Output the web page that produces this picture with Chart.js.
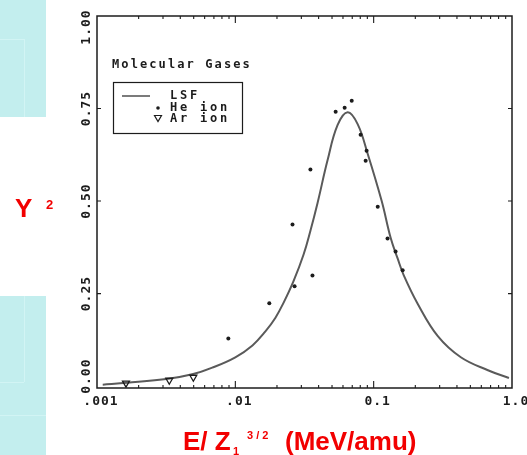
<!DOCTYPE html>
<html>
<head>
<meta charset="utf-8">
<script src="https://cdn.jsdelivr.net/npm/chart.js@4.4.1/dist/chart.umd.min.js"></script>
<style>
  html, body { margin: 0; padding: 0; background: #fff; }
  body { width: 527px; height: 455px; position: relative; overflow: hidden; font-family: "Liberation Sans", Arial, sans-serif; }
  .panel { position: absolute; left: 0; width: 46px; background: #c3eeee; }
  .seam { position: absolute; background: #d2f4f4; }
  #chart { position: absolute; left: 0; top: 0; }
  .red { position: absolute; color: #f20000; font-weight: bold; line-height: 1; white-space: pre; }
</style>
</head>
<body>
<div class="panel" style="top:0;height:117px"></div>
<div class="seam" style="left:24px;top:39px;width:1px;height:78px"></div>
<div class="seam" style="left:0;top:39px;width:24px;height:1px"></div>
<div class="panel" style="top:296px;height:159px"></div>
<div class="seam" style="left:24px;top:296px;width:1px;height:86px"></div>
<div class="seam" style="left:0;top:382px;width:24px;height:1px"></div>
<div class="seam" style="left:0;top:415px;width:46px;height:1px"></div>

<canvas id="chart" width="527" height="455"></canvas>

<span class="red" style="left:15px;top:195px;font-size:26px">Y</span>
<span class="red" style="left:46px;top:198px;font-size:13px">2</span>
<span class="red" style="left:183px;top:428px;font-size:26px">E/ Z</span>
<span class="red" style="left:233px;top:446px;font-size:11px">1</span>
<span class="red" style="left:247px;top:430px;font-size:11px">3 / 2</span>
<span class="red" style="left:285px;top:428px;font-size:26px">(MeV/amu)</span>

<script>
// LSF fit curve (energy per amu scaled by Z1^3/2, Y^2)
const lsfE = [0.00110, 0.00165, 0.00327, 0.00488, 0.00681, 0.0100, 0.0133, 0.0165, 0.0195, 0.0223,
              0.0263, 0.0311, 0.0349, 0.0393, 0.0464, 0.0548, 0.0649, 0.0766, 0.0905, 0.1143,
              0.1328, 0.149, 0.1648, 0.2084, 0.2909, 0.4266, 0.6699, 0.9505];
const lsfY = [0.004, 0.009, 0.020, 0.032, 0.050, 0.078, 0.110, 0.148, 0.185, 0.225,
              0.283, 0.355, 0.420, 0.495, 0.610, 0.705, 0.740, 0.708, 0.628, 0.500,
              0.400, 0.345, 0.300, 0.222, 0.135, 0.078, 0.043, 0.022];

// He ion measurements
const heE = [0.0089, 0.0176, 0.0259, 0.0268, 0.0361, 0.0349, 0.0531, 0.0617, 0.0694, 0.0805,
             0.0889, 0.0875, 0.107, 0.126, 0.144, 0.162];
const heY = [0.129, 0.224, 0.437, 0.270, 0.299, 0.585, 0.741, 0.752, 0.771, 0.679,
             0.636, 0.609, 0.485, 0.399, 0.364, 0.313];

// Ar ion measurements
const arE = [0.00162, 0.00333, 0.00497];
const arY = [0.008, 0.016, 0.024];

const xTickVals = [0.001, 0.01, 0.1, 1];
const xTickText = ['.001', '.01', '0.1', '1.0'];
const yTickVals = [0, 0.25, 0.5, 0.75, 1];
const yTickText = ['0.00', '0.25', '0.50', '0.75', '1.00'];

const ink = '#1c1c1c';
const curveGrey = '#5a5a5a';
const mono = '"DejaVu Sans Mono", "Liberation Mono", monospace';

const toPts = (xs, ys) => xs.map((x, i) => ({ x: x, y: ys[i] }));

// frame, inward ticks, typewriter labels and the boxed legend
const framePlugin = {
  id: 'frame',
  afterDraw(chart) {
    const { ctx, chartArea: a } = chart;
    const xs = chart.scales.x, ys = chart.scales.y;
    ctx.save();
    ctx.strokeStyle = ink;
    ctx.fillStyle = ink;
    ctx.lineWidth = 1.5;
    ctx.strokeRect(a.left, a.top, a.right - a.left, a.bottom - a.top);

    ctx.lineWidth = 1.1;
    ctx.beginPath();
    for (let e = -3; e <= -1; e++) {
      for (let m = 1; m <= 9; m++) {
        const v = m * Math.pow(10, e);
        if (v <= 0.001) continue;
        const px = xs.getPixelForValue(v);
        const len = m === 1 ? 7 : 3;
        ctx.moveTo(px, a.bottom); ctx.lineTo(px, a.bottom - len);
        ctx.moveTo(px, a.top); ctx.lineTo(px, a.top + len);
      }
    }
    [0.25, 0.5, 0.75].forEach(v => {
      const py = ys.getPixelForValue(v);
      ctx.moveTo(a.left, py); ctx.lineTo(a.left + 4, py);
      ctx.moveTo(a.right, py); ctx.lineTo(a.right - 4, py);
    });
    ctx.stroke();

    // tick labels
    ctx.font = 'bold 13px ' + mono;
    ctx.letterSpacing = '1px';
    ctx.textAlign = 'center';
    ctx.textBaseline = 'alphabetic';
    xTickVals.forEach((v, i) => {
      ctx.fillText(xTickText[i], xs.getPixelForValue(v) + 4, 405);
    });
    ctx.textBaseline = 'middle';
    yTickVals.forEach((v, i) => {
      let py = ys.getPixelForValue(v);
      if (v === 1) py += 11;
      if (v === 0) py -= 10;
      ctx.save();
      ctx.translate(87, py);
      ctx.rotate(-Math.PI / 2);
      ctx.fillText(yTickText[i], 0, 0);
      ctx.restore();
    });

    // panel title
    ctx.textAlign = 'left';
    ctx.textBaseline = 'alphabetic';
    ctx.font = 'bold 12px ' + mono;
    ctx.letterSpacing = '2.1px';
    ctx.fillText('Molecular Gases', 112, 68);

    // legend box
    ctx.lineWidth = 1.2;
    ctx.strokeRect(113.5, 82.5, 129, 51);
    ctx.strokeStyle = curveGrey;
    ctx.lineWidth = 1.6;
    ctx.beginPath();
    ctx.moveTo(122, 96); ctx.lineTo(150, 96);
    ctx.stroke();
    ctx.beginPath();
    ctx.arc(158, 108, 1.8, 0, Math.PI * 2);
    ctx.fill();
    ctx.strokeStyle = ink;
    ctx.lineWidth = 1.2;
    ctx.beginPath();
    ctx.moveTo(154.5, 115.5); ctx.lineTo(161.5, 115.5); ctx.lineTo(158, 121.5); ctx.closePath();
    ctx.stroke();

    ctx.font = 'bold 12px ' + mono;
    ctx.letterSpacing = '2.8px';
    ctx.fillText('LSF', 170, 99);
    ctx.fillText('He ion', 170, 111);
    ctx.fillText('Ar ion', 170, 122);
    ctx.restore();
  }
};

new Chart(document.getElementById('chart'), {
  type: 'scatter',
  data: {
    datasets: [{
      label: 'He ion',
      data: toPts(heE, heY),
      pointRadius: 2,
      pointBackgroundColor: ink,
      pointBorderWidth: 0
    }, {
      label: 'Ar ion',
      data: toPts(arE, arY),
      pointStyle: 'triangle',
      pointRotation: 180,
      pointRadius: 4,
      pointBackgroundColor: 'rgba(0,0,0,0)',
      pointBorderColor: ink,
      pointBorderWidth: 1.3
    }, {
      label: 'LSF',
      data: toPts(lsfE, lsfY),
      showLine: true,
      borderColor: curveGrey,
      borderWidth: 2,
      pointRadius: 0,
      tension: 0.4,
      fill: false
    }]
  },
  options: {
    responsive: false,
    animation: false,
    devicePixelRatio: 1,
    layout: { padding: { left: 97, top: 16, right: 15, bottom: 67 } },
    plugins: { legend: { display: false }, tooltip: { enabled: false } },
    scales: {
      x: { type: 'logarithmic', min: 0.001, max: 1, display: false },
      y: { type: 'linear', min: -0.005, max: 1, display: false }
    }
  },
  plugins: [framePlugin]
});
</script>
</body>
</html>
